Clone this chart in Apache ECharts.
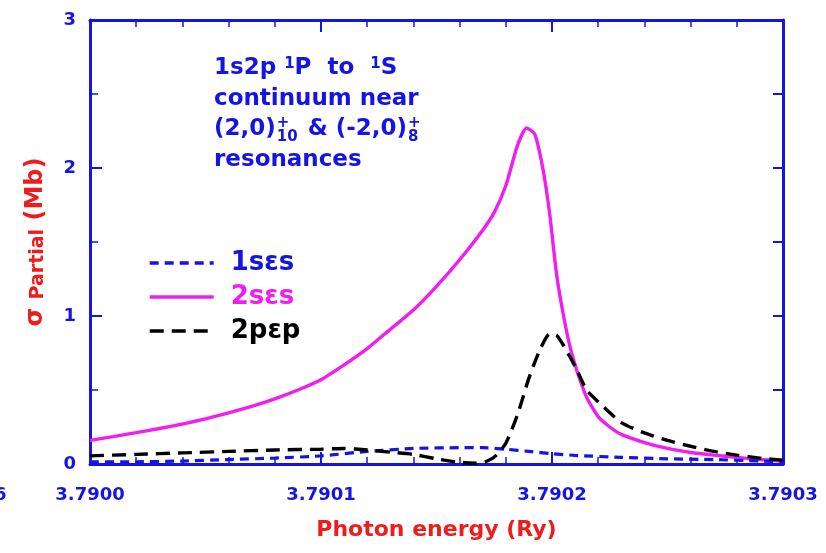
<!DOCTYPE html>
<html><head><meta charset="utf-8">
<script src="https://cdn.jsdelivr.net/npm/echarts@6/dist/echarts.min.js"></script>
<style>html,body{margin:0;padding:0;background:#fff}#c{width:826px;height:553px}</style>
</head><body><div id="c"></div>
<script>
// ---- data ----
const seriesNames = ['1sεs', '2sεs', '2pεp'];

const energy1s = [3.79000,3.79002,3.79004,3.79006,3.79008,3.79010,3.79012,3.79014,3.79016,3.79017,3.79018,3.79019,3.79020,3.79021,3.79023,3.79025,3.79027,3.79029,3.79030];
const sigma1s  = [0.015,0.015,0.02,0.03,0.04,0.055,0.085,0.105,0.11,0.11,0.10,0.085,0.07,0.058,0.045,0.035,0.03,0.02,0.015];

const energy2s = [3.79000,3.79001,3.79002,3.79003,3.79004,3.79005,3.79006,3.79007,3.79008,3.79009,3.79010,3.79011,3.79012,3.79013,3.79014,3.79015,3.79016,3.79017,3.790175,3.79018,3.790185,3.790189,3.7901925,3.790196,3.790199,3.790202,3.790205,3.790208,3.790211,3.790215,3.79022,3.790225,3.79023,3.79024,3.79025,3.79026,3.79027,3.79028,3.79029,3.79030];
const sigma2s  = [0.16,0.185,0.212,0.24,0.27,0.305,0.345,0.39,0.44,0.50,0.57,0.67,0.78,0.91,1.04,1.20,1.38,1.58,1.70,1.88,2.15,2.27,2.23,2.00,1.69,1.28,1.00,0.78,0.62,0.45,0.32,0.25,0.20,0.145,0.105,0.078,0.06,0.045,0.03,0.02];

const energy2p = [3.79000,3.79002,3.79004,3.79006,3.79008,3.79010,3.79011,3.79012,3.79013,3.79014,3.79015,3.79016,3.790167,3.790172,3.790176,3.79018,3.790185,3.79019,3.790195,3.790199,3.790202,3.790205,3.79021,3.790215,3.79022,3.79023,3.79024,3.79025,3.79026,3.79027,3.79028,3.79029,3.79030];
const sigma2p  = [0.055,0.065,0.075,0.085,0.095,0.10,0.105,0.095,0.08,0.065,0.035,0.01,0.005,0.02,0.06,0.14,0.33,0.58,0.78,0.88,0.87,0.80,0.66,0.50,0.42,0.28,0.21,0.16,0.12,0.085,0.06,0.04,0.025];

const xMin = 3.7900, xMax = 3.7903, xStep = 0.0001;
const yMin = 0, yMax = 3, yStep = 1;

// ---- styling ----
const BLUE = '#1414e6', MAG = '#f01ef0', RED = '#ee1c1c', BLK = '#000000';
const FONT = 'DejaVu Sans';

const pairs = (xs, ys) => xs.map((x, i) => [x, ys[i]]);

const chart = echarts.init(document.getElementById('c'), null, {renderer: 'canvas'});

const tickCommon = {inside: true, lineStyle: {color: BLUE, width: 2}};
const xAxisBase = {
  type: 'value', min: xMin, max: xMax, interval: xStep,
  axisLine: {show: true, onZero: false, lineStyle: {color: BLUE, width: 3}},
  axisTick: Object.assign({length: 12}, tickCommon),
  minorTick: {show: true, splitNumber: 5, length: 7, lineStyle: {color: BLUE, width: 1.5}},
  splitLine: {show: false}, minorSplitLine: {show: false}
};

// measure helper for annotation layout
const ctx = document.createElement('canvas').getContext('2d');
function tw(t, size) { ctx.font = 'bold ' + size + 'px "' + FONT + '"'; return ctx.measureText(t).width; }

const annX = 214, annSize = 23, supSize = 15;
const l3a = '(2,0)', l3b = ' & (-2,0)';
const x3a = annX + tw(l3a, annSize) + 1;
const x3b = x3a + tw('10', supSize) + 2;
const x3c = x3b + tw(l3b, annSize) + 1;

const annStyle = {fill: BLUE, fontFamily: FONT, fontWeight: 'bold', fontSize: annSize};
const graphics = [
  {type: 'text', left: annX, top: 57, style: Object.assign({}, annStyle, {
    text: '1s2p {s|1}P  to  {s|1}S',
    rich: {s: {fontSize: supSize, fontWeight: 'bold', fontFamily: FONT, fill: BLUE, verticalAlign: 'top'}}
  })},
  {type: 'text', left: annX, top: 88, style: Object.assign({}, annStyle, {text: 'continuum near'})},
  {type: 'text', left: annX, top: 118, style: Object.assign({}, annStyle, {text: l3a})},
  {type: 'text', left: x3a, top: 116, style: {text: '+', fill: BLUE, fontFamily: FONT, fontWeight: 'bold', fontSize: supSize}},
  {type: 'text', left: x3a, top: 130, style: {text: '10', fill: BLUE, fontFamily: FONT, fontWeight: 'bold', fontSize: supSize}},
  {type: 'text', left: x3b, top: 118, style: Object.assign({}, annStyle, {text: l3b})},
  {type: 'text', left: x3c, top: 116, style: {text: '+', fill: BLUE, fontFamily: FONT, fontWeight: 'bold', fontSize: supSize}},
  {type: 'text', left: x3c, top: 130, style: {text: '8', fill: BLUE, fontFamily: FONT, fontWeight: 'bold', fontSize: supSize}},
  {type: 'text', left: annX, top: 149, style: Object.assign({}, annStyle, {text: 'resonances'})},
  {type: 'text', left: -6, top: 486, style: {text: '6', fill: BLUE, fontFamily: FONT, fontWeight: 'bold', fontSize: 18}}
];

const option = {
  backgroundColor: '#ffffff',
  animation: false,
  grid: {left: 90, right: 43, top: 20, bottom: 89, containLabel: false},
  legend: {
    orient: 'vertical', left: 143, top: 245, itemWidth: 64, itemHeight: 14, itemGap: 8,
    itemStyle: {opacity: 0},
    lineStyle: {width: 3.4},
    formatter: n => '{t|' + n + '}',
    textStyle: {fontFamily: FONT, fontWeight: 'bold', fontSize: 26,
      rich: {t: {fontFamily: FONT, fontWeight: 'bold', fontSize: 26, padding: [0, 0, 0, 12]}}},
    data: [
      {name: seriesNames[0], textStyle: {color: BLUE}},
      {name: seriesNames[1], textStyle: {color: MAG}},
      {name: seriesNames[2], textStyle: {color: BLK}}
    ]
  },
  xAxis: [
    Object.assign({}, xAxisBase, {
      position: 'bottom',
      axisLabel: {color: BLUE, fontFamily: FONT, fontWeight: 'bold', fontSize: 18, margin: 22,
        formatter: v => v.toFixed(4)},
      name: 'Photon energy (Ry)', nameLocation: 'middle', nameGap: 55,
      nameTextStyle: {color: RED, fontFamily: FONT, fontWeight: 'bold', fontSize: 22}
    }),
    Object.assign({}, xAxisBase, {position: 'top', axisLabel: {show: false}})
  ],
  yAxis: [
    {
      type: 'value', min: yMin, max: yMax, interval: yStep, position: 'left',
      axisLine: {show: true, onZero: false, lineStyle: {color: BLUE, width: 3}},
      axisTick: Object.assign({length: 12}, tickCommon),
      minorTick: {show: true, splitNumber: 2, length: 8, lineStyle: {color: BLUE, width: 1.5}},
      splitLine: {show: false}, minorSplitLine: {show: false},
      axisLabel: {color: BLUE, fontFamily: FONT, fontWeight: 'bold', fontSize: 18, margin: 14},
      name: '{s|σ} {p|Partial} {s|(Mb)}', nameLocation: 'middle', nameRotate: 90, nameGap: 42,
      nameTextStyle: {color: RED, fontFamily: FONT, fontWeight: 'bold', fontSize: 24,
        rich: {
          s: {color: RED, fontFamily: FONT, fontWeight: 'bold', fontSize: 24},
          p: {color: RED, fontFamily: FONT, fontWeight: 'bold', fontSize: 19, verticalAlign: 'bottom'}
        }}
    },
    {
      type: 'value', min: yMin, max: yMax, interval: 0.5, position: 'right',
      axisLine: {show: true, onZero: false, lineStyle: {color: BLUE, width: 3}},
      axisTick: Object.assign({length: 10}, tickCommon),
      splitLine: {show: false}, axisLabel: {show: false}
    }
  ],
  series: [
    {name: seriesNames[0], type: 'line', data: pairs(energy1s, sigma1s), symbol: 'none',
      smooth: 0.2,
      lineStyle: {color: BLUE, width: 3.2, type: [9, 6]}, itemStyle: {color: BLUE}, z: 3},
    {name: seriesNames[1], type: 'line', data: pairs(energy2s, sigma2s), symbol: 'none',
      smooth: 0.2,
      lineStyle: {color: MAG, width: 3.4, type: 'solid'}, itemStyle: {color: MAG}, z: 2},
    {name: seriesNames[2], type: 'line', data: pairs(energy2p, sigma2p), symbol: 'none',
      smooth: 0.2,
      lineStyle: {color: BLK, width: 3.4, type: [14, 8]}, itemStyle: {color: BLK}, z: 4}
  ],
  graphic: graphics
};
chart.setOption(option);
</script>
</body></html>
